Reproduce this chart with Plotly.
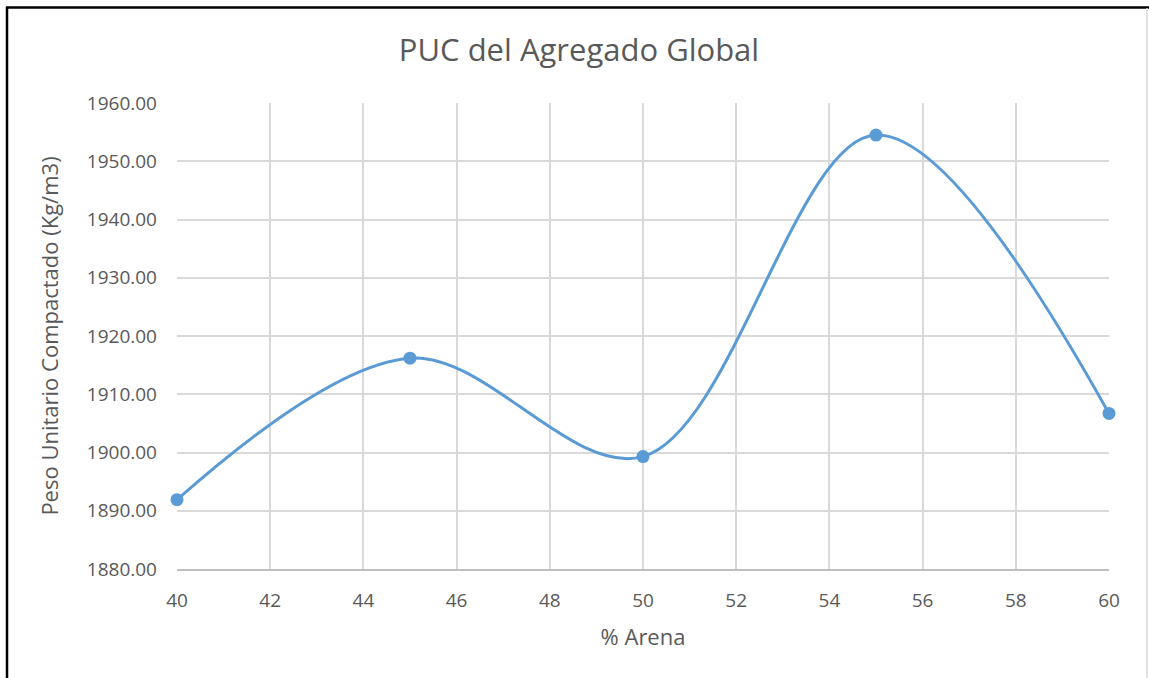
import plotly.graph_objects as go

# % de arena en la mezcla y peso unitario compactado (kg/m3)
arena_pct = [40, 45, 50, 55, 60]
puc = [1891.9, 1916.2, 1899.3, 1954.5, 1906.7]

x_ticks = [40, 42, 44, 46, 48, 50, 52, 54, 56, 58, 60]
y_ticks = [1880, 1890, 1900, 1910, 1920, 1930, 1940, 1950, 1960]

W, H = 1149, 678
L, R, T, B = 177, 40, 103, 109
pw, ph = W - L - R, H - T - B

def px_x(p):
    return (p - L) / pw

def px_y(p):
    return (H - B - p) / ph

font = "Open Sans, Liberation Sans, sans-serif"
grey = "#595959"

fig = go.Figure(
    go.Scatter(
        x=arena_pct, y=puc,
        mode="lines+markers",
        line=dict(color="#5b9bd5", width=3, shape="spline", smoothing=1.0),
        marker=dict(color="#5b9bd5", size=13),
        cliponaxis=False,
        hoverinfo="x+y",
    )
)

fig.update_layout(
    width=W, height=H,
    margin=dict(l=L, r=R, t=T, b=B),
    paper_bgcolor="white", plot_bgcolor="white",
    showlegend=False,
    font=dict(family=font, color=grey, size=19),
    title=dict(text="PUC del Agregado Global", x=579 / W, xanchor="center",
               y=1 - 50 / H, yanchor="middle",
               font=dict(size=31, color=grey, family=font)),
    xaxis=dict(
        range=[40, 60], tickvals=x_ticks, ticktext=[str(v) for v in x_ticks],
        showgrid=True, gridcolor="#d9d9d9", gridwidth=1.5,
        showline=True, linecolor="#bfbfbf", linewidth=1.5,
        zeroline=False, ticks="", ticklabelstandoff=13,
        tickfont=dict(size=19, color=grey),
        title=dict(text="% Arena", font=dict(size=22, color=grey), standoff=18),
    ),
    yaxis=dict(
        range=[1880, 1960], tickvals=y_ticks,
        ticktext=[f"{v:.2f}" for v in y_ticks],
        showgrid=True, gridcolor="#d9d9d9", gridwidth=1.5,
        showline=False, zeroline=False, ticks="", ticklabelstandoff=19,
        tickfont=dict(size=19, color=grey),
        title=dict(text="Peso Unitario Compactado (Kg/m3)",
                   font=dict(size=22, color=grey), standoff=22),
    ),
    shapes=[
        dict(type="line", xref="paper", yref="paper",
             x0=px_x(7), x1=px_x(7), y0=px_y(7), y1=px_y(H + 5),
             line=dict(color="black", width=2.5)),
        dict(type="line", xref="paper", yref="paper",
             x0=px_x(6), x1=px_x(W + 5), y0=px_y(7.5), y1=px_y(7.5),
             line=dict(color="black", width=2.5)),
        dict(type="line", xref="paper", yref="paper",
             x0=px_x(1147), x1=px_x(1147), y0=px_y(8), y1=px_y(H + 5),
             line=dict(color="#d9d9d9", width=1.5)),
    ],
)

fig.write_html("out.html")
